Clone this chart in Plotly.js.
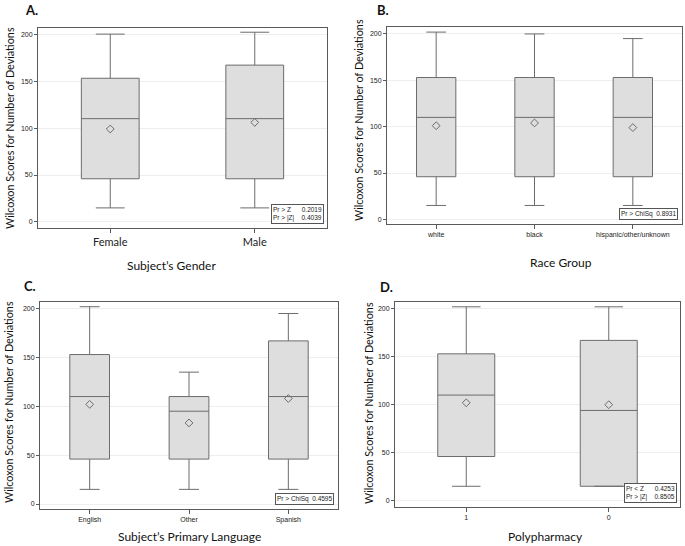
<!DOCTYPE html>
<html>
<head>
<meta charset="utf-8">
<script src="https://cdn.plot.ly/plotly-3.0.1.min.js"></script>
<style>html,body{margin:0;padding:0;background:#fff;}#chart{width:685px;height:546px;}</style>
</head>
<body>
<div id="chart"></div>
<script>
// Panel A: Subject's Gender
const genderCats = ['Female', 'Male'];
const genderLower = [15, 15];
const genderQ1 = [46, 46];
const genderMedian = [110, 110];
const genderQ3 = [153, 167];
const genderUpper = [200, 202];
const genderMean = [99, 106];

// Panel B: Race Group
const raceCats = ['white', 'black', 'hispanic/other/unknown'];
const raceLower = [15, 15, 15];
const raceQ1 = [46, 46, 46];
const raceMedian = [110, 110, 110];
const raceQ3 = [153, 153, 153];
const raceUpper = [202, 200, 195];
const raceMean = [101, 104, 99];

// Panel C: Subject's Primary Language
const langCats = ['English', 'Other', 'Spanish'];
const langLower = [15, 15, 15];
const langQ1 = [46, 46, 46];
const langMedian = [110, 95, 110];
const langQ3 = [153, 110, 167];
const langUpper = [202, 135, 195];
const langMean = [102, 83, 108];

// Panel D: Polypharmacy
const polyCats = ['1', '0'];
const polyLower = [15, 15];
const polyQ1 = [46, 15];
const polyMedian = [110, 94];
const polyQ3 = [153, 167];
const polyUpper = [202, 202];
const polyMean = [102, 100];

const yTicks = [0, 50, 100, 150, 200];

const titleFont = 'Lato, "Open Sans", sans-serif';
const tickFont = '"Liberation Sans", Arial, sans-serif';
const lineCol = '#5a5a5a';

function boxTrace(cats, lo, q1, med, q3, hi, xa, ya) {
  return {
    type: 'box', x: cats, q1: q1, median: med, q3: q3,
    lowerfence: lo, upperfence: hi,
    fillcolor: '#dedede', line: {color: '#6c6c6c', width: 1},
    width: 0.4, whiskerwidth: 0.5, boxpoints: false,
    xaxis: xa, yaxis: ya, showlegend: false, hoverinfo: 'skip'
  };
}
function meanTrace(cats, mean, xa, ya) {
  return {
    type: 'scatter', mode: 'markers', x: cats, y: mean,
    marker: {symbol: 'diamond-open', size: 6, color: '#6c6c6c', line: {width: 1}},
    xaxis: xa, yaxis: ya, showlegend: false, hoverinfo: 'skip'
  };
}

const data = [
  boxTrace(genderCats, genderLower, genderQ1, genderMedian, genderQ3, genderUpper, 'x', 'y'),
  meanTrace(genderCats, genderMean, 'x', 'y'),
  boxTrace(raceCats, raceLower, raceQ1, raceMedian, raceQ3, raceUpper, 'x2', 'y2'),
  meanTrace(raceCats, raceMean, 'x2', 'y2'),
  boxTrace(langCats, langLower, langQ1, langMedian, langQ3, langUpper, 'x3', 'y3'),
  meanTrace(langCats, langMean, 'x3', 'y3'),
  boxTrace(polyCats, polyLower, polyQ1, polyMedian, polyQ3, polyUpper, 'x4', 'y4'),
  meanTrace(polyCats, polyMean, 'x4', 'y4')
];

const W = 685, H = 546;
function px(x) { return x / W; }
function py(y) { return 1 - y / H; }

function xAxis(domain, anchor, n, fontSize, fontFam) {
  return {
    domain: domain, anchor: anchor, type: 'category', range: [-0.5, n - 0.5],
    showline: true, mirror: true, linecolor: lineCol, linewidth: 1,
    ticks: 'outside', ticklen: 4, tickcolor: lineCol, showgrid: false, zeroline: false,
    tickfont: {family: fontFam, size: fontSize, color: '#222'}, fixedrange: true
  };
}
function yAxis(domain, anchor, range) {
  return {
    domain: domain, anchor: anchor, range: range, tickvals: yTicks,
    showline: true, mirror: true, linecolor: lineCol, linewidth: 1,
    ticks: 'outside', ticklen: 3, tickcolor: lineCol,
    showgrid: true, gridcolor: '#eeeeee', gridwidth: 1, zeroline: false,
    tickfont: {family: tickFont, size: 7, color: '#222'}, fixedrange: true
  };
}

const layout = {
  width: W, height: H, margin: {l: 0, r: 0, t: 0, b: 0},
  paper_bgcolor: '#fff', plot_bgcolor: '#fff', showlegend: false,
  xaxis: xAxis([px(38), px(327)], 'y', 2, 11, titleFont),
  yaxis: yAxis([py(228), py(28)], 'x', [-6.4, 206.5]),
  xaxis2: xAxis([px(387), px(682)], 'y2', 3, 7, tickFont),
  yaxis2: yAxis([py(224), py(27)], 'x2', [-5, 207.5]),
  xaxis3: xAxis([px(40), px(338)], 'y3', 3, 7, tickFont),
  yaxis3: yAxis([py(509), py(302)], 'x3', [-5.1, 206.8]),
  xaxis4: xAxis([px(395), px(680)], 'y4', 2, 7, tickFont),
  yaxis4: yAxis([py(507), py(302)], 'x4', [-6.6, 207]),
  annotations: []
};

function paperText(text, x, y, opts) {
  return Object.assign({
    text: text, xref: 'paper', yref: 'paper', x: px(x), y: py(y),
    xanchor: 'center', yanchor: 'middle', showarrow: false,
    font: {family: titleFont, size: 13, color: '#111'}
  }, opts || {});
}

const ytitle = 'Wilcoxon Scores for Number of Deviations';
const labFont = {family: titleFont, size: 13, color: '#111'};
const yFont = {family: titleFont, size: 10.8, color: '#111'};
const xFont = {family: titleFont, size: 12, color: '#111'};
layout.annotations.push(
  paperText('<b>A.</b>', 31, 10, {font: labFont}),
  paperText('<b>B.</b>', 383, 10, {font: labFont}),
  paperText('<b>C.</b>', 30, 286, {font: labFont}),
  paperText('<b>D.</b>', 387, 287, {font: labFont}),
  paperText(ytitle, 9, 128, {textangle: -90, font: yFont}),
  paperText(ytitle, 358, 120, {textangle: -90, font: yFont}),
  paperText(ytitle, 8, 402, {textangle: -90, font: yFont}),
  paperText(ytitle, 368, 403, {textangle: -90, font: yFont}),
  paperText('Subject’s Gender', 171, 265, {font: xFont}),
  paperText('Race Group', 561, 262, {font: xFont}),
  paperText('Subject’s Primary Language', 189, 536, {font: xFont}),
  paperText('Polypharmacy', 545, 536, {font: xFont})
);

function inset(text, xa, ya) {
  return {
    text: text, xref: xa + ' domain', yref: ya + ' domain', x: 0.988, y: 0.02,
    xanchor: 'right', yanchor: 'bottom', showarrow: false, align: 'left',
    bordercolor: '#555', borderwidth: 1, borderpad: 1, bgcolor: '#fff',
    font: {family: tickFont, size: 6.5, color: '#222'}
  };
}
layout.annotations.push(
  inset('Pr &gt; Z&nbsp;&nbsp;&nbsp;&nbsp;&nbsp;&nbsp;0.2019<br>Pr &gt; |Z|&nbsp;&nbsp;&nbsp;&nbsp;0.4039', 'x', 'y'),
  inset('Pr &gt; ChiSq&nbsp;&nbsp;0.8931', 'x2', 'y2'),
  inset('Pr &gt; ChiSq&nbsp;&nbsp;0.4595', 'x3', 'y3'),
  inset('Pr &lt; Z&nbsp;&nbsp;&nbsp;&nbsp;&nbsp;&nbsp;0.4253<br>Pr &gt; |Z|&nbsp;&nbsp;&nbsp;&nbsp;0.8505', 'x4', 'y4')
);

Plotly.newPlot('chart', data, layout, {staticPlot: true, displayModeBar: false});
</script>
</body>
</html>
